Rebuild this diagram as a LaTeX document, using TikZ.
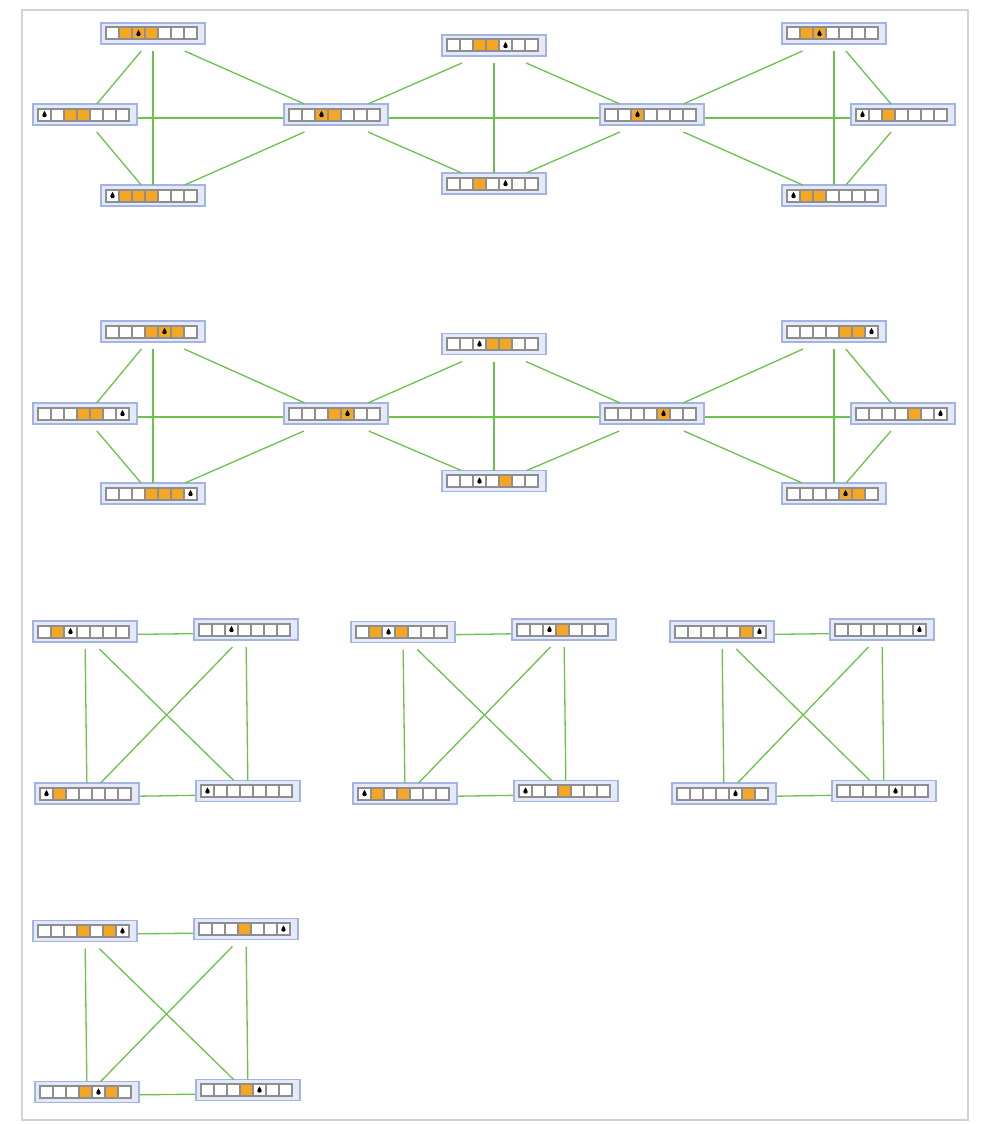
\documentclass[tikz,border=0pt]{standalone}
\definecolor{nodefill}{HTML}{E4E9F8}
\definecolor{nodeline}{HTML}{A3B3E6}
\definecolor{cellgrey}{HTML}{8E8E8E}
\definecolor{orng}{HTML}{F5A623}
\definecolor{edgegreen}{HTML}{6CC24A}
\definecolor{framegrey}{HTML}{D3D3D3}
\tikzset{
 stnode/.style={draw=nodeline, fill=nodefill, line width=1.5pt, minimum width=104pt, minimum height=21pt, inner sep=0pt, outer sep=0pt},
 hitbox/.style={minimum width=106pt, minimum height=28pt, inner sep=0pt, outer sep=0pt},
 cell/.style={draw=cellgrey, line width=2pt, minimum width=13pt, minimum height=12pt, inner sep=0pt, outer sep=0pt},
 cW/.style={fill=white},
 cO/.style={fill=orng},
 dropimg/.style={path picture={\fill[black, shift={(path picture bounding box.center)}] (0,-3.6) .. controls (0.9,-1.6) and (2.2,-0.6) .. (2.2,0.9) .. controls (2.2,3.2) and (-2.2,3.2) .. (-2.2,0.9) .. controls (-2.2,-0.6) and (-0.9,-1.6) .. (0,-3.6) -- cycle;}},
 cd/.style={fill=white, dropimg},
 cD/.style={fill=orng, dropimg},
 link/.style={draw=edgegreen, line width=1.3pt},
}
\newcommand\stbox[3]{%
  \node[stnode] (#1v) at (#2) {};
  \node[hitbox] (#1) at ([yshift=-3.5pt]#1v.center) {};
  \foreach \c [count=\i] in {#3} {
    \node[cell, c\c] at ([xshift={(\i-4)*13pt-1.5pt}]#1v.center) {};
  }
}
\begin{document}
\begin{tikzpicture}[x=1pt, y=-1pt]
\useasboundingbox (0,0) rectangle (994,1124);
\fill[white] (0,0) rectangle (994,1124);
\draw[framegrey, line width=1.5pt] (22,10) rectangle (968,1120);
% row 1
\stbox{A1}{153,33.5}{W,O,D,O,W,W,W}
\stbox{B1}{85,114.5}{d,W,O,O,W,W,W}
\stbox{C1}{336,114.5}{W,W,D,O,W,W,W}
\stbox{D1}{494,45.5}{W,W,O,O,d,W,W}
\stbox{E1}{652,114.5}{W,W,D,W,W,W,W}
\stbox{F1}{834,33.5}{W,O,D,W,W,W,W}
\stbox{G1}{903,114.5}{d,W,O,W,W,W,W}
\stbox{H1}{153,195.5}{d,O,O,O,W,W,W}
\stbox{I1}{494,183.5}{W,W,O,W,d,W,W}
\stbox{J1}{834,195.5}{d,O,O,W,W,W,W}
% row 2
\stbox{A2}{153,331.5}{W,W,W,O,D,O,W}
\stbox{B2}{85,413.5}{W,W,W,O,O,W,d}
\stbox{C2}{336,413.5}{W,W,W,O,D,W,W}
\stbox{D2}{494,344}{W,W,d,O,O,W,W}
\stbox{E2}{652,413.5}{W,W,W,W,D,W,W}
\stbox{F2}{834,331.5}{W,W,W,W,O,O,d}
\stbox{G2}{903,413.5}{W,W,W,W,O,W,d}
\stbox{H2}{153,493.5}{W,W,W,O,O,O,d}
\stbox{I2}{494,481}{W,W,d,W,O,W,W}
\stbox{J2}{834,493.5}{W,W,W,W,D,O,W}
% row 3
\stbox{Pa}{85,631.5}{W,O,d,W,W,W,W}
\stbox{Qa}{246,629.5}{W,W,d,W,W,W,W}
\stbox{Ra}{87,793.5}{d,O,W,W,W,W,W}
\stbox{Sa}{248,791}{d,W,W,W,W,W,W}
\stbox{Pb}{403,632}{W,O,d,O,W,W,W}
\stbox{Qb}{564,629.5}{W,W,d,O,W,W,W}
\stbox{Rb}{405,793.5}{d,O,W,O,W,W,W}
\stbox{Sb}{566,791}{d,W,W,O,W,W,W}
\stbox{Pc}{722,631.5}{W,W,W,W,W,O,d}
\stbox{Qc}{882,629.5}{W,W,W,W,W,W,d}
\stbox{Rc}{724,793.5}{W,W,W,W,d,O,W}
\stbox{Sc}{884,791}{W,W,W,W,d,W,W}
% row 4
\stbox{Pd}{85,931}{W,W,W,O,W,O,d}
\stbox{Qd}{246,929}{W,W,W,O,W,W,d}
\stbox{Rd}{87,1092}{W,W,W,O,d,O,W}
\stbox{Sd}{248,1090}{W,W,W,O,d,W,W}
% edges
\foreach \r in {1,2} {
  \foreach \u/\v in {A/B, A/H, A/C, B/C, B/H, H/C, C/D, C/I, C/E, D/I, D/E, I/E, E/F, E/G, E/J, F/G, F/J, G/J} {
    \draw[link] (\u\r) -- (\v\r);
  }
}
\foreach \g in {a,b,c,d} {
  \foreach \u/\v in {P/Q, P/R, P/S, Q/R, Q/S, R/S} {
    \draw[link] (\u\g) -- (\v\g);
  }
}
\end{tikzpicture}
\end{document}
